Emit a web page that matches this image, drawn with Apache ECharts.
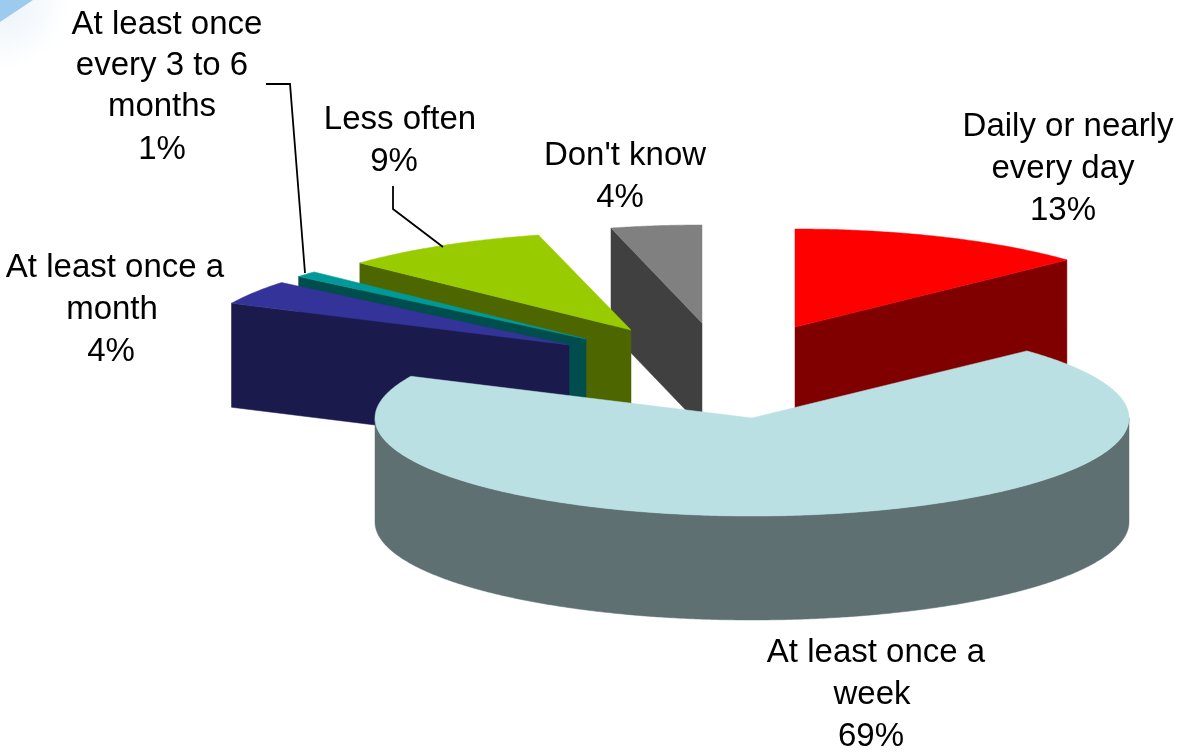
<!DOCTYPE html>
<html>
<head>
<meta charset="utf-8">
<title>Frequency of use</title>
<style>
  html, body { margin: 0; padding: 0; background: #ffffff; }
  #chart { width: 1178px; height: 752px; }
</style>
<script src="https://cdn.jsdelivr.net/npm/echarts@6/dist/echarts.min.js"></script>
</head>
<body>
<div id="chart"></div>
<script>
// Share of respondents per answer, clockwise from twelve o'clock.
const categories = [
  'Daily or nearly\nevery day',
  'At least once a\nweek',
  'At least once a\nmonth',
  'At least once\nevery 3 to 6\nmonths',
  'Less often',
  "Don't know"
];
const shares = [13, 69, 4, 1, 9, 4];

// Top-face and side-face colours of each wedge.
const topColors = ['#ff0000', '#bae0e3', '#333399', '#009999', '#99cc00', '#808080'];
const sideColors = ['#800000', '#5f7072', '#1a1a4d', '#004d4d', '#4d6600', '#404040'];

// Every wedge is pulled out of the pie by its own amount: these are the apexes.
const apexes = [[795, 327], [752, 418], [569, 345], [586, 339], [631, 330], [702, 323]];
// Painter's order, back to front.
const paintRank = [2, 6, 5, 4, 3, 1];
// Ellipse of the tilted pie (receding wedges foreshorten a little) and extrusion height.
const radiiX = [373, 377, 373, 373, 372, 366];
const radiusY = 98, thickness = 104;

// Label lines are centred individually.
const labelCenters = [
  { x: [1068, 1063, 1063], y: [127, 169, 211] },
  { x: [876, 872, 871], y: [653, 695, 737] },
  { x: [115, 112, 111], y: [268, 310, 352] },
  { x: [167, 162, 162, 162], y: [25, 66, 107, 150] },
  { x: [400, 394], y: [120, 162] },
  { x: [625, 620], y: [156, 198] }
];
const leaders = {
  3: [[266, 84], [290, 84], [305, 273]],
  4: [[393, 186], [393, 209], [443, 247]]
};

const total = shares.reduce((a, b) => a + b, 0);
const startAngles = [];
shares.reduce((acc, v, i) => { startAngles[i] = acc; return acc + v / total * 360; }, 0);

const rad = d => d * Math.PI / 180;
// Point on the rim of wedge i, angle in degrees clockwise from the top.
const rim = (i, deg, drop) => [
  apexes[i][0] + radiiX[i] * Math.sin(rad(deg)),
  apexes[i][1] - radiusY * Math.cos(rad(deg)) + (drop || 0)
];
const arc = (i, from, to, drop) => {
  const pts = [];
  const steps = Math.max(2, Math.ceil(Math.abs(to - from) * 2));
  for (let n = 0; n <= steps; n++) pts.push(rim(i, from + (to - from) * n / steps, drop));
  return pts;
};
const poly = (points, fill, z2) => ({
  type: 'polygon', z2: z2,
  shape: { points: points },
  style: { fill: fill, stroke: fill, lineWidth: 0.5 }
});

function cutFace(i, deg, z2) {
  const apex = apexes[i];
  const edge = rim(i, deg);
  return poly([
    apex, edge,
    [edge[0], edge[1] + thickness],
    [apex[0], apex[1] + thickness]
  ], sideColors[i], z2);
}

function renderWedge(params, api) {
  const i = params.dataIndex;
  const from = startAngles[i];
  const to = from + api.value(0) / total * 360;
  const rank = paintRank[i] * 10;
  const children = [];

  // A cut face shows only when it turns towards the viewer.
  if (Math.sin(rad(from)) < -1e-6) children.push(cutFace(i, from, rank));
  if (Math.sin(rad(to)) > 1e-6) children.push(cutFace(i, to, rank));

  // Outer wall: only the front half of the rim is visible.
  const wallFrom = Math.max(from, 90), wallTo = Math.min(to, 270);
  if (wallTo > wallFrom) {
    children.push(poly(
      arc(i, wallFrom, wallTo).concat(arc(i, wallTo, wallFrom, thickness)),
      sideColors[i], rank + 1
    ));
  }

  children.push(poly([apexes[i]].concat(arc(i, from, to)), topColors[i], rank + 2));

  if (leaders[i]) {
    children.push({
      type: 'polyline', z2: 100,
      shape: { points: leaders[i] },
      style: { stroke: '#000000', lineWidth: 1.8, fill: null }
    });
  }

  const lines = categories[i].split('\n').concat(api.value(0) + '%');
  lines.forEach((line, n) => {
    children.push({
      type: 'text', z2: 100,
      style: {
        text: line,
        x: labelCenters[i].x[n],
        y: labelCenters[i].y[n],
        fill: '#000000',
        font: '33px "Liberation Sans", Arial, sans-serif',
        align: 'center',
        verticalAlign: 'middle'
      }
    });
  });

  return { type: 'group', children: children };
}

const chart = echarts.init(document.getElementById('chart'), null, { renderer: 'canvas' });
chart.setOption({
  animation: false,
  backgroundColor: '#ffffff',
  // Corner of the slide's decorative swoosh.
  graphic: [
    {
      type: 'circle', silent: true, z: -2,
      shape: { cx: 0, cy: 0, r: 70 },
      style: {
        fill: {
          type: 'radial', x: 0.5, y: 0.5, r: 0.5,
          colorStops: [
            { offset: 0, color: '#e6f2fa' },
            { offset: 0.45, color: '#f3f8fb' },
            { offset: 1, color: '#ffffff' }
          ]
        }
      }
    },
    {
      type: 'polygon', silent: true, z: -1,
      shape: { points: [[0, 0], [33, 0], [0, 22]] },
      style: { fill: '#9ccbee' }
    }
  ],
  series: [{
    type: 'custom',
    coordinateSystem: 'none',
    silent: true,
    clip: false,
    renderItem: renderWedge,
    data: shares.map(v => [v])
  }]
});
</script>
</body>
</html>
